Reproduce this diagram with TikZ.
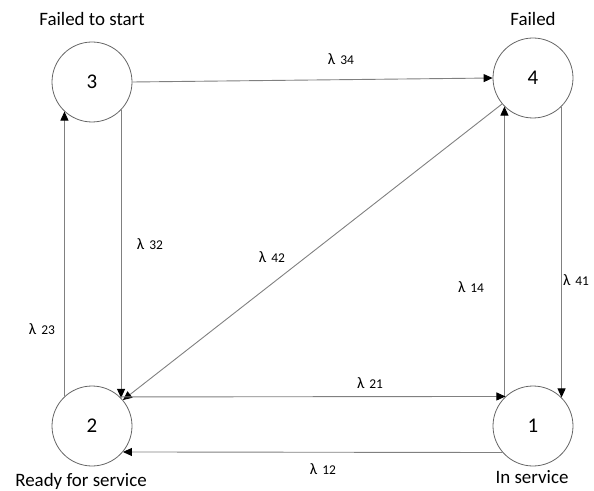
\documentclass[tikz,border=0pt]{standalone}
\usepackage{fontspec}
\setmainfont{Carlito}
\usetikzlibrary{arrows.meta}
\newcommand{\rate}[1]{{\fontsize{16}{18}\selectfont λ}\hspace{5bp}{\fontsize{13.5}{16}\selectfont #1}}

\begin{document}
\begin{tikzpicture}[x=1bp,y=-1bp,
	state/.style={circle,draw=black!60,line width=0.8bp,minimum size=80bp,inner sep=0pt,font=\fontsize{21}{24}\selectfont},
	trans/.style={draw=black!50,line width=0.9bp,-{Triangle[length=9bp,width=8bp,black]}},
	statename/.style={font=\fontsize{19}{22}\selectfont},
	rlabel/.style={inner sep=0pt}]
	\useasboundingbox (0,0) rectangle (594,491);
	% states
	\node [state] (n3) at (92,82) {3};
	\node [state] (n4) at (533,78) {4};
	\node [state] (n2) at (92,426) {2};
	\node [state] (n1) at (533,426) {1};
	\node [statename] (t3) at (92,19) {Failed to start};
	\node [statename] (t4) at (533,19) {Failed};
	\node [statename] (t2) at (81,481) {Ready for service};
	\node [statename] (t1) at (532,477) {In service};
	% transitions
	\draw [trans] (n3.east) -- (n4.west);
	\draw [trans] (n3.-44) -- (n2.44);
	\draw [trans] (n2.133) -- (n3.-133);
	\draw [trans] (n4.-140) -- (n2.40);
	\draw [trans] (n1.135) -- (n4.-135);
	\draw [trans] (n4.-45) -- (n1.45);
	\draw [trans] (n2.46.5) -- (n1.133.5);
	\draw [trans] (n1.-139.5) -- (n2.-40.5);
	% rates
	\node [rlabel] (l34) at (341,59) {\rate{34}};
	\node [rlabel] (l32) at (150,244) {\rate{32}};
	\node [rlabel] (l23) at (42,329) {\rate{23}};
	\node [rlabel] (l42) at (272,257) {\rate{42}};
	\node [rlabel] (l14) at (471,287) {\rate{14}};
	\node [rlabel] (l41) at (576,280) {\rate{41}};
	\node [rlabel] (l21) at (370,383) {\rate{21}};
	\node [rlabel] (l12) at (323,469) {\rate{12}};
\end{tikzpicture}
\end{document}
